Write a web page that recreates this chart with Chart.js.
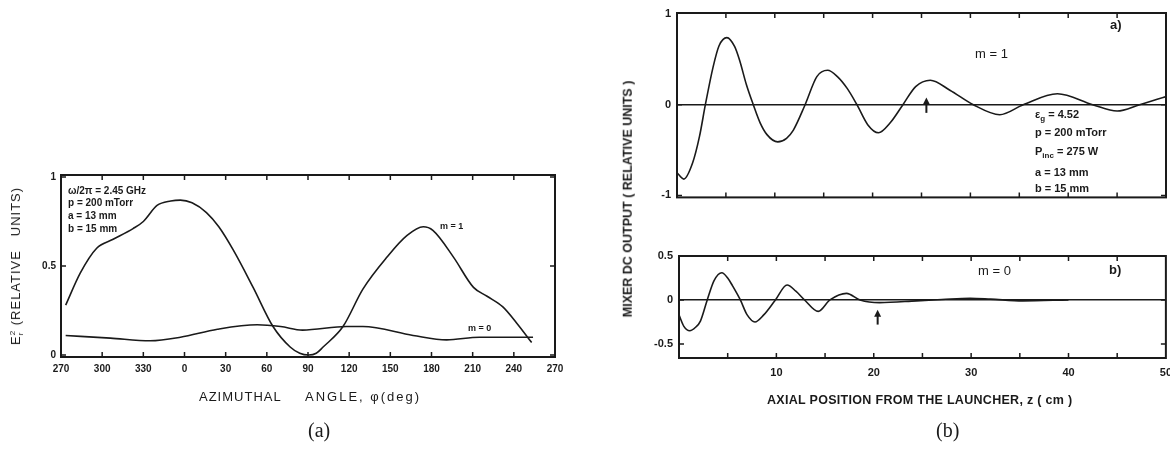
<!DOCTYPE html>
<html>
<head>
<meta charset="utf-8">
<script src="https://cdn.jsdelivr.net/npm/chart.js@4.4.0/dist/chart.umd.min.js"></script>
<style>
body { margin: 0; width: 1170px; height: 451px; background: #fff; position: relative; overflow: hidden; font-family: 'Liberation Sans', Arial, sans-serif; color: #1a1a1a; }
canvas { position: absolute; }
.t { position: absolute; white-space: nowrap; line-height: 1; }
.rot { transform: translate(-50%, -50%) rotate(-90deg); }
.small { font-size: 10px; font-weight: bold; }
.med { font-size: 11px; font-weight: bold; }
.cap { font-family: 'Liberation Serif', 'Times New Roman', serif; font-size: 20px; }
</style>
</head>
<body>

<canvas id="chartA" width="570" height="240" style="left:0;top:160px"></canvas>
<canvas id="chartB1" width="580" height="210" style="left:600px;top:0"></canvas>
<canvas id="chartB2" width="580" height="180" style="left:600px;top:240px"></canvas>

<!-- textos do painel (a) -->
<div class="t rot" style="left:17px;top:266px;font-size:13px;letter-spacing:1px">E<span style="display:inline-block;vertical-align:middle;font-size:8px;line-height:8px;text-align:left">2<br>r</span> (RELATIVE&nbsp;&nbsp; UNITS)</div>
<div class="t small" style="left:68px;top:186px">ω/2π = 2.45 GHz</div>
<div class="t small" style="left:68px;top:198px">p = 200 mTorr</div>
<div class="t small" style="left:68px;top:211px">a = 13 mm</div>
<div class="t small" style="left:68px;top:224px">b = 15 mm</div>
<div class="t small" style="left:440px;top:222px;font-size:9px">m = 1</div>
<div class="t small" style="left:468px;top:324px;font-size:9px">m = 0</div>
<div class="t" style="left:199px;top:390px;font-size:13px;letter-spacing:1px">AZIMUTHAL</div>
<div class="t" style="left:305px;top:390px;font-size:13px;letter-spacing:2px">ANGLE, φ(deg)</div>
<div class="t cap" style="left:308px;top:420px">(a)</div>

<!-- textos do painel (b) -->
<div class="t rot" style="left:628px;top:199px;font-size:12.5px;font-weight:bold">MIXER DC OUTPUT ( RELATIVE UNITS )</div>
<div class="t" style="left:975px;top:47px;font-size:13px">m = 1</div>
<div class="t" style="left:1110px;top:18px;font-size:13px;font-weight:bold">a)</div>
<div class="t med" style="left:1035px;top:109px">ε<sub style="font-size:8px">g</sub> = 4.52</div>
<div class="t med" style="left:1035px;top:127px">p = 200 mTorr</div>
<div class="t med" style="left:1035px;top:146px">P<sub style="font-size:8px">inc</sub> = 275 W</div>
<div class="t med" style="left:1035px;top:167px">a = 13 mm</div>
<div class="t med" style="left:1035px;top:183px">b = 15 mm</div>
<div class="t" style="left:978px;top:264px;font-size:13px">m = 0</div>
<div class="t" style="left:1109px;top:263px;font-size:13px;font-weight:bold">b)</div>
<div class="t" style="left:767px;top:394px;font-size:12.5px;font-weight:bold;letter-spacing:0.3px">AXIAL POSITION FROM THE LAUNCHER, z ( cm )</div>
<div class="t cap" style="left:936px;top:420px">(b)</div>

<script>
// (a) campo azimutal
const phiM1 = [-86.6, -76, -64, -52, -37.5, -30, -20, -10, -3, 5.5, 16, 25, 35.5, 50, 64.5, 77, 84, 90.5, 96, 101, 115.5, 130, 147.6, 162, 174, 181, 196, 210.6, 220.5, 232, 242, 253];
const erM1 = [0.28, 0.46, 0.60, 0.65, 0.71, 0.75, 0.84, 0.865, 0.87, 0.855, 0.80, 0.72, 0.59, 0.38, 0.16, 0.045, 0.01, 0.0, 0.01, 0.045, 0.16, 0.37, 0.55, 0.67, 0.72, 0.70, 0.55, 0.38, 0.33, 0.27, 0.18, 0.07];
const phiM0 = [-86.6, -54, -25, -3, 24, 53, 70, 86, 118, 130, 166.6, 191, 215, 254];
const erM0 = [0.11, 0.095, 0.08, 0.10, 0.145, 0.17, 0.16, 0.14, 0.16, 0.16, 0.11, 0.085, 0.10, 0.10];
const phiTicks = [-90, -60, -30, 0, 30, 60, 90, 120, 150, 180, 210, 240, 270];
const phiTickLabels = ['270', '300', '330', '0', '30', '60', '90', '120', '150', '180', '210', '240', '270'];
const erTicks = [0, 0.5, 1];
const erTickLabels = ['0', '0.5', '1'];

// (b) saida do mixer
const zM1 = [0, 0.7, 1.6, 2.3, 2.9, 3.7, 4.3, 5.1, 5.9, 6.4, 7.1, 7.8, 8.5, 9.2, 10.3, 11.2, 11.9, 13.1, 14.3, 15.4, 16.4, 17.4, 18.4, 19.5, 20.6, 21.8, 23.1, 24.4, 25.9, 27.9, 30.3, 33.0, 35.4, 38.9, 42.5, 45.0, 47.3, 50];
const outM1 = [-0.75, -0.82, -0.64, -0.35, 0.0, 0.42, 0.65, 0.74, 0.64, 0.49, 0.22, 0.0, -0.2, -0.33, -0.41, -0.37, -0.28, 0.0, 0.31, 0.38, 0.31, 0.18, 0.0, -0.22, -0.31, -0.2, 0.0, 0.2, 0.27, 0.16, 0.0, -0.11, 0.0, 0.12, 0.0, -0.07, 0.0, 0.09];
const zM0 = [0, 0.5, 1.1, 1.7, 2.2, 2.9, 3.6, 4.4, 5.0, 5.5, 6.3, 7.0, 7.8, 8.7, 9.9, 11.1, 12.0, 12.9, 14.3, 15.5, 17.2, 18.6, 20.6, 24.4, 27, 29.9, 32, 35.3, 40];
const outM0 = [-0.17, -0.30, -0.35, -0.31, -0.24, 0.0, 0.22, 0.31, 0.25, 0.16, 0.0, -0.17, -0.25, -0.17, 0.0, 0.17, 0.1, 0.0, -0.13, 0.0, 0.075, 0.0, -0.03, -0.01, 0.005, 0.02, 0.01, -0.01, 0.0];
const zTicks = [0, 5, 10, 15, 20, 25, 30, 35, 40, 45, 50];
const zTickLabels = ['', '', '10', '', '20', '', '30', '', '40', '', '50'];
const outTicksTop = [-1, 0, 1];
const outTickLabelsTop = ['-1', '0', '1'];
const outTicksBottom = [-0.5, 0, 0.5];
const outTickLabelsBottom = ['-0.5', '0', '0.5'];
// setas (posicao z, de, ate)
const arrowTop = [25.5, -0.09, 0.08];
const arrowBottom = [20.4, -0.28, -0.11];

const INK = '#1a1a1a';

function pontos(xs, ys) {
    return xs.map((x, i) => ({ x: x, y: ys[i] }));
}

// moldura, marcas internas e setas
const molduraPlugin = {
    id: 'moldura',
    afterDatasetsDraw(chart, args, opts) {
        const ctx = chart.ctx;
        const a = chart.chartArea;
        const sx = chart.scales.x;
        const sy = chart.scales.y;
        const len = 5;
        ctx.save();
        ctx.strokeStyle = INK;
        ctx.fillStyle = INK;
        ctx.lineWidth = opts.frame || 2;
        ctx.strokeRect(a.left, a.top, a.right - a.left, a.bottom - a.top);
        ctx.lineWidth = 1.5;
        ctx.beginPath();
        sx.ticks.forEach(t => {
            const px = sx.getPixelForValue(t.value);
            if (px <= a.left + 1 || px >= a.right - 1) return;
            ctx.moveTo(px, a.bottom); ctx.lineTo(px, a.bottom - len);
            ctx.moveTo(px, a.top); ctx.lineTo(px, a.top + len);
        });
        sy.ticks.forEach(t => {
            const py = sy.getPixelForValue(t.value);
            if (py <= a.top + 1 || py >= a.bottom - 1) return;
            ctx.moveTo(a.left, py); ctx.lineTo(a.left + len, py);
            ctx.moveTo(a.right, py); ctx.lineTo(a.right - len, py);
        });
        ctx.stroke();
        if (opts.arrow) {
            const px = sx.getPixelForValue(opts.arrow[0]);
            const y0 = sy.getPixelForValue(opts.arrow[1]);
            const y1 = sy.getPixelForValue(opts.arrow[2]);
            ctx.lineWidth = 2;
            ctx.beginPath();
            ctx.moveTo(px, y0); ctx.lineTo(px, y1 + 4);
            ctx.stroke();
            ctx.beginPath();
            ctx.moveTo(px, y1); ctx.lineTo(px - 3.5, y1 + 7); ctx.lineTo(px + 3.5, y1 + 7);
            ctx.closePath();
            ctx.fill();
        }
        ctx.restore();
    }
};

function linha(data) {
    return {
        data: data,
        borderColor: INK,
        borderWidth: 1.6,
        pointRadius: 0,
        fill: false,
        cubicInterpolationMode: 'monotone'
    };
}

function opcoes(cfg) {
    return {
        responsive: false,
        animation: false,
        devicePixelRatio: 1,
        layout: { padding: cfg.padding },
        plugins: {
            legend: { display: false },
            tooltip: { enabled: false },
            moldura: { frame: cfg.frame, arrow: cfg.arrow }
        },
        scales: {
            x: {
                type: 'linear',
                min: cfg.xMin, max: cfg.xMax,
                afterBuildTicks: s => { s.ticks = cfg.xTicks.map(v => ({ value: v })); },
                afterFit: s => { s.height = cfg.xHeight; },
                grid: { display: false, drawTicks: false },
                border: { display: false },
                ticks: {
                    display: cfg.xLabels !== null,
                    autoSkip: false,
                    maxRotation: 0,
                    padding: cfg.xPad,
                    color: INK,
                    font: cfg.font,
                    callback: (v, i) => cfg.xLabels ? cfg.xLabels[i] : ''
                }
            },
            y: {
                type: 'linear',
                min: cfg.yMin, max: cfg.yMax,
                afterBuildTicks: s => { s.ticks = cfg.yTicks.map(v => ({ value: v })); },
                afterFit: s => { s.width = cfg.yWidth; },
                grid: {
                    display: cfg.zeroLine,
                    drawTicks: false,
                    lineWidth: 1.5,
                    color: c => (c.tick && c.tick.value === 0) ? INK : 'rgba(0,0,0,0)'
                },
                border: { display: false },
                ticks: {
                    autoSkip: false,
                    padding: cfg.yPad,
                    color: INK,
                    font: cfg.font,
                    callback: (v, i) => cfg.yLabels[i]
                }
            }
        }
    };
}

new Chart(document.getElementById('chartA').getContext('2d'), {
    type: 'line',
    data: { datasets: [linha(pontos(phiM1, erM1)), linha(pontos(phiM0, erM0))] },
    options: opcoes({
        padding: { left: 0, top: 15, right: 15, bottom: 0 },
        frame: 2,
        xMin: -90, xMax: 270, xTicks: phiTicks, xLabels: phiTickLabels, xHeight: 43, xPad: 6,
        yMin: -0.011, yMax: 1.011, yTicks: erTicks, yLabels: erTickLabels, yWidth: 61, yPad: 5,
        zeroLine: false,
        font: { family: 'Liberation Sans', size: 10, weight: 'bold' }
    }),
    plugins: [molduraPlugin]
});

new Chart(document.getElementById('chartB1').getContext('2d'), {
    type: 'line',
    data: { datasets: [linha(pontos(zM1, outM1))] },
    options: opcoes({
        padding: { left: 0, top: 13, right: 14, bottom: 0 },
        frame: 2,
        arrow: arrowTop,
        xMin: 0, xMax: 50, xTicks: zTicks, xLabels: null, xHeight: 12, xPad: 6,
        yMin: -1.022, yMax: 1.011, yTicks: outTicksTop, yLabels: outTickLabelsTop, yWidth: 77, yPad: 6,
        zeroLine: true,
        font: { family: 'Liberation Sans', size: 11, weight: 'bold' }
    }),
    plugins: [molduraPlugin]
});

new Chart(document.getElementById('chartB2').getContext('2d'), {
    type: 'line',
    data: { datasets: [linha(pontos(zM0, outM0))] },
    options: opcoes({
        padding: { left: 0, top: 16, right: 13, bottom: 0 },
        frame: 2,
        arrow: arrowBottom,
        xMin: 0, xMax: 50, xTicks: zTicks, xLabels: zTickLabels, xHeight: 62, xPad: 8,
        yMin: -0.66, yMax: 0.5, yTicks: outTicksBottom, yLabels: outTickLabelsBottom, yWidth: 79, yPad: 6,
        zeroLine: true,
        font: { family: 'Liberation Sans', size: 11, weight: 'bold' }
    }),
    plugins: [molduraPlugin]
});
</script>
</body>
</html>
